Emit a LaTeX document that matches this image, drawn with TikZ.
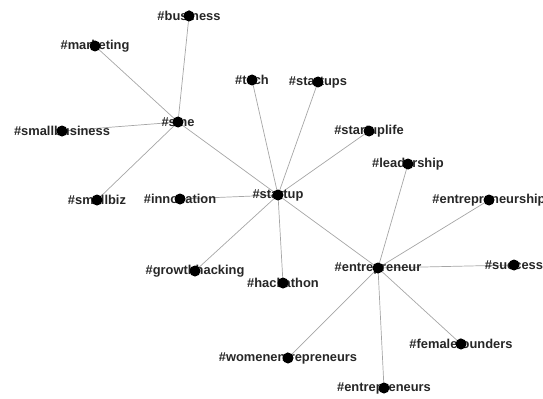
\documentclass[tikz,border=0pt]{standalone}
\usepackage{fontspec}
\setmainfont{Liberation Sans}
\usetikzlibrary{backgrounds}

\tikzset{
  tag/.style={inner sep=0pt, text=black!85, font=\fontsize{11}{13}\selectfont\bfseries},
  link/.style={draw=gray!70, line width=0.6pt},
  dot/.style={fill=black}
}

\begin{document}
\begin{tikzpicture}[x=0.03cm, y=-0.03cm]
  \useasboundingbox (0, 0) rectangle (543, 398);

  \node[tag] (business) at (189, 16) {\#business};
  \node[tag] (marketing) at (95, 46) {\#marketing};
  \node[tag] (sme) at (178, 122) {\#sme};
  \node[tag] (smallbusiness) at (62, 131) {\#smallbusiness};
  \node[tag] (smallbiz) at (97, 200) {\#smallbiz};
  \node[tag] (innovation) at (180, 199) {\#innovation};
  \node[tag] (tech) at (252, 80) {\#tech};
  \node[tag] (startup) at (278, 195) {\#startup};
  \node[tag] (startups) at (318, 82) {\#startups};
  \node[tag] (startuplife) at (369, 131) {\#startuplife};
  \node[tag] (leadership) at (408, 164) {\#leadership};
  \node[tag] (entrepreneurship) at (489, 200) {\#entrepreneurship};
  \node[tag] (success) at (514, 265) {\#success};
  \node[tag] (entrepreneur) at (378, 268) {\#entrepreneur};
  \node[tag] (growthhacking) at (195, 271) {\#growthhacking};
  \node[tag] (hackathon) at (283, 283) {\#hackathon};
  \node[tag] (womenentrepreneurs) at (288, 358) {\#womenentrepreneurs};
  \node[tag] (entrepreneurs) at (384, 388) {\#entrepreneurs};
  \node[tag] (femalefounders) at (461, 344) {\#femalefounders};

  % edges under the labels
  \begin{scope}[on background layer]
    \foreach \n in {business, marketing, smallbusiness, smallbiz, startup}
      \draw[link] (sme.center) -- (\n.center);
    \foreach \n in {tech, startups, startuplife, innovation, growthhacking, hackathon, entrepreneur}
      \draw[link] (startup.center) -- (\n.center);
    \foreach \n in {leadership, entrepreneurship, success, femalefounders, entrepreneurs, womenentrepreneurs}
      \draw[link] (entrepreneur.center) -- (\n.center);
  \end{scope}

  % dots on top
  \foreach \n in {business, marketing, sme, smallbusiness, smallbiz, innovation, tech, startup,
      startups, startuplife, leadership, entrepreneurship, success, entrepreneur,
      growthhacking, hackathon, womenentrepreneurs, entrepreneurs, femalefounders}
    \fill[dot] (\n.center) circle (5.5);
\end{tikzpicture}
\end{document}
